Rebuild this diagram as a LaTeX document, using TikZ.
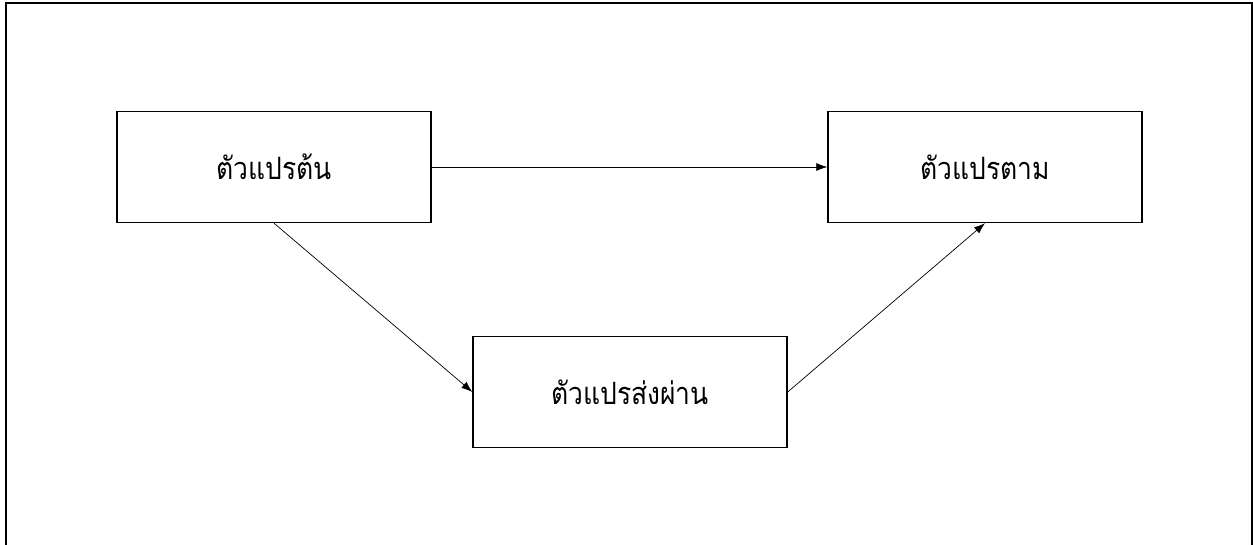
\documentclass[tikz,border=0pt]{standalone}
\usepackage{fontspec}
\newfontfamily\thaifont[Script=Thai,FakeStretch=0.86]{Loma}
\usetikzlibrary{arrows.meta}
\tikzset{
  varbox/.style={draw,line width=0.8pt,minimum width=6.28cm,minimum height=2.22cm,inner sep=0pt,font=\thaifont\fontsize{17.5}{20}\selectfont},
  link/.style={-{Latex[length=2.2mm,width=1.6mm]},line width=0.4pt}
}
\begin{document}
\begin{tikzpicture}[x=0.02cm,y=-0.02cm]
  \useasboundingbox (0,0) rectangle (1253,544);
  \draw[line width=1.1pt] (6,600) |- (1252,3) -- (1252,600);
  \path
  (274,167) node[varbox] (indep) {ตัวแปรต้น}
  (985,167) node[varbox] (dep) {ตัวแปรตาม}
  (630,392) node[varbox] (med) {ตัวแปรส่งผ่าน}
  ;
  \draw[link] (indep) -- (dep);
  \draw[link] (indep.south) -- (med.west);
  \draw[link] (med.east) -- (dep.south);
\end{tikzpicture}
\end{document}
